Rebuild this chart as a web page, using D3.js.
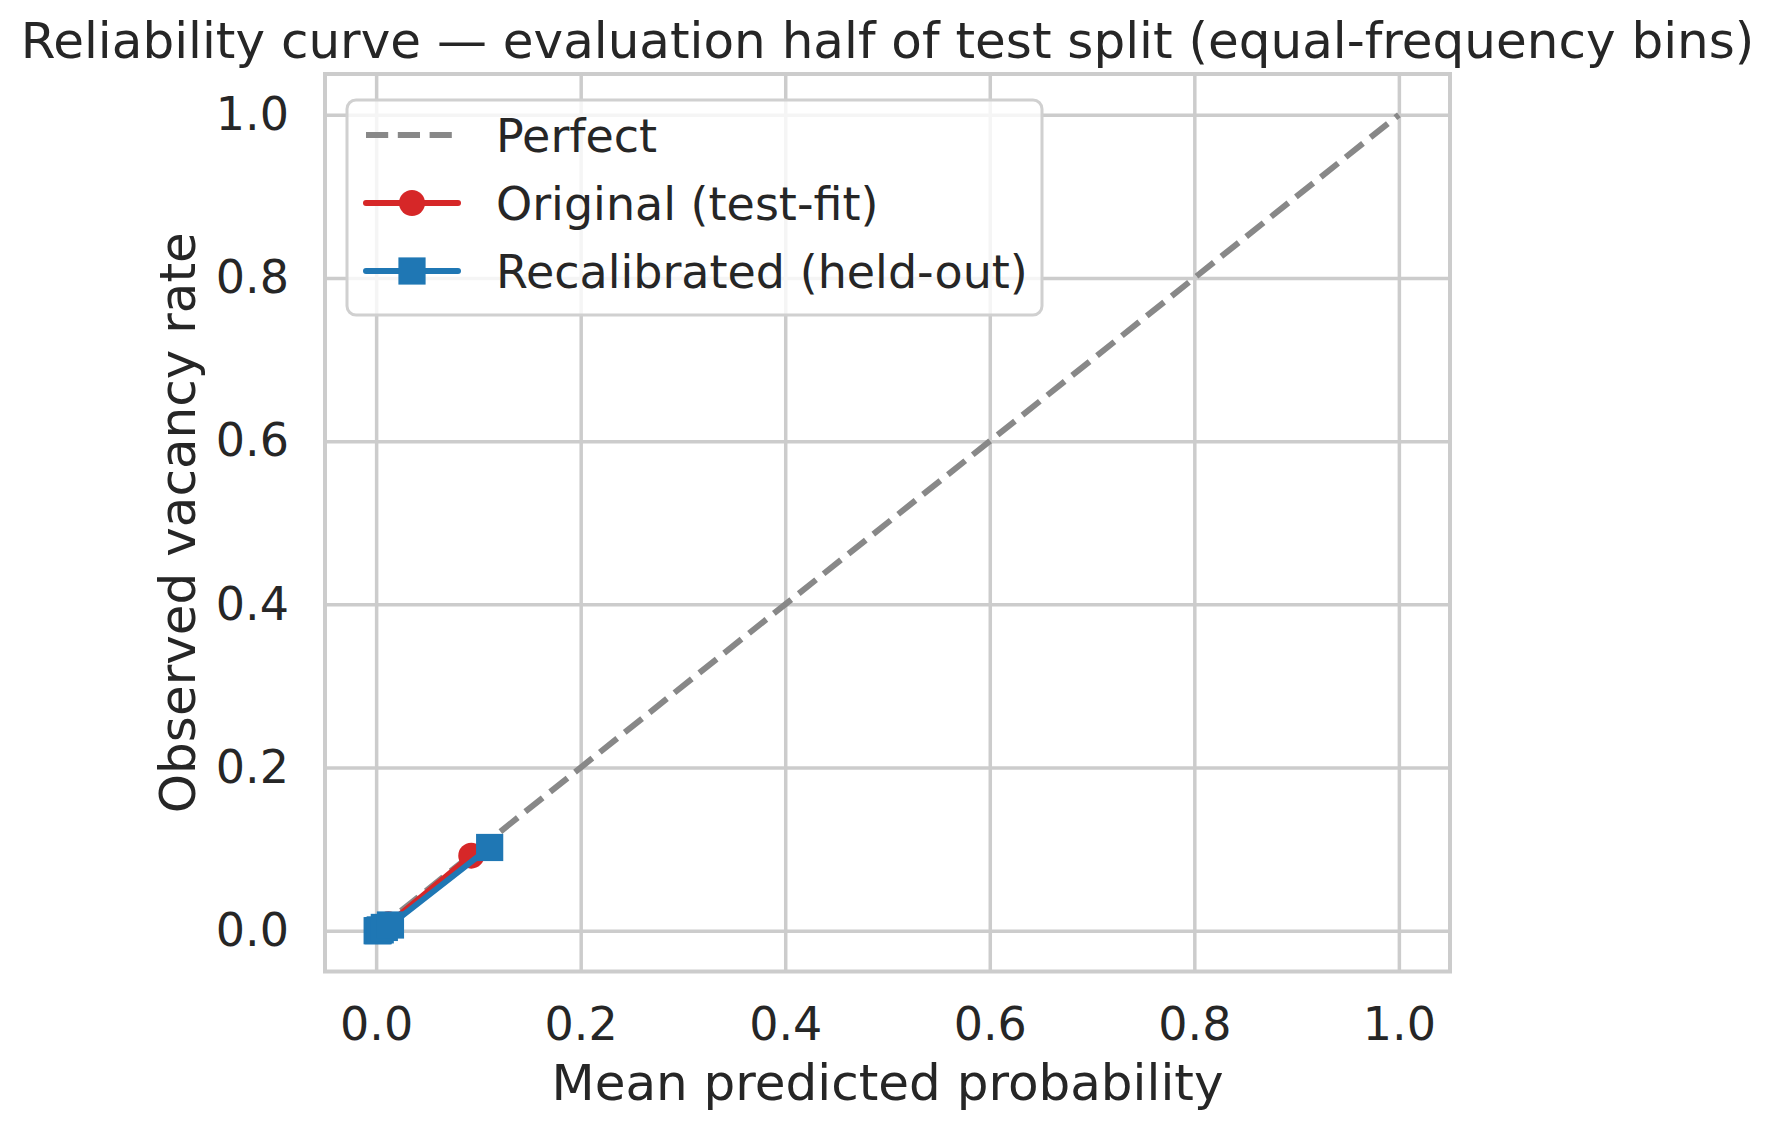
<!DOCTYPE html>
<html>
<head>
  <meta charset="utf-8">
  <style>
    body { margin: 0; background: #fff; }
    text { font-family: "DejaVu Sans", sans-serif; fill: #262626; }
  </style>
</head>
<body>
<div id="chart"></div>
<script src="https://cdn.jsdelivr.net/npm/d3@7"></script>
<script>
  // values
  const origX = [0.001, 0.002, 0.004, 0.007, 0.012, 0.093];
  const origY = [0.000, 0.000, 0.001, 0.003, 0.008, 0.092];
  const recalX = [0.001, 0.002, 0.004, 0.008, 0.014, 0.111];
  const recalY = [0.000, 0.000, 0.001, 0.004, 0.007, 0.102];
  const perfect = [0, 1];
  const ticks = [0, 0.2, 0.4, 0.6, 0.8, 1.0];
  const seriesNames = ["Perfect", "Original (test-fit)", "Recalibrated (held-out)"];

  const W = 1775, H = 1131;
  const mLeft = 325, mRight = 1450, mTop = 74, mBottom = 971.5;

  const svg = d3.select('#chart').append('svg')
    .attr('width', W).attr('height', H);

  const x = d3.scaleLinear().domain([-0.05, 1.05]).range([mLeft, mRight]);
  const y = d3.scaleLinear().domain([-0.05, 1.05]).range([mBottom, mTop]);

  // grid + tick labels
  const gx = svg.append('g')
    .attr('transform', `translate(0,${mBottom})`)
    .call(d3.axisBottom(x).tickValues(ticks).tickFormat(d3.format('.1f'))
      .tickSize(-(mBottom - mTop)).tickPadding(36));
  const gy = svg.append('g')
    .attr('transform', `translate(${mLeft},0)`)
    .call(d3.axisLeft(y).tickValues(ticks).tickFormat(d3.format('.1f'))
      .tickSize(-(mRight - mLeft)).tickPadding(36));
  [gx, gy].forEach(g => {
    g.select('.domain').remove();
    g.selectAll('.tick line').attr('stroke', '#cccccc').attr('stroke-width', 3.5);
    g.selectAll('.tick text').attr('font-size', 46).attr('fill', '#262626')
      .attr('font-family', '"DejaVu Sans", sans-serif');
  });

  // frame
  svg.append('rect')
    .attr('x', mLeft).attr('y', mTop)
    .attr('width', mRight - mLeft).attr('height', mBottom - mTop)
    .attr('fill', 'none').attr('stroke', '#cccccc').attr('stroke-width', 4);

  const line = d3.line().x(d => x(d[0])).y(d => y(d[1]));

  // perfect diagonal
  svg.append('path')
    .datum(perfect.map(v => [v, v]))
    .attr('d', line)
    .attr('fill', 'none').attr('stroke', '#888888')
    .attr('stroke-width', 6).attr('stroke-dasharray', '22.2,9.6');

  // original (red, circles)
  const orig = origX.map((v, i) => [v, origY[i]]);
  svg.append('path').datum(orig).attr('d', line)
    .attr('fill', 'none').attr('stroke', '#d62728').attr('stroke-width', 6)
    .attr('stroke-linejoin', 'round').attr('stroke-linecap', 'round');
  svg.append('g').selectAll('circle').data(orig).enter().append('circle')
    .attr('cx', d => x(d[0])).attr('cy', d => y(d[1])).attr('r', 13)
    .attr('fill', '#d62728');

  // recalibrated (blue, squares)
  const recal = recalX.map((v, i) => [v, recalY[i]]);
  svg.append('path').datum(recal).attr('d', line)
    .attr('fill', 'none').attr('stroke', '#1f77b4').attr('stroke-width', 6)
    .attr('stroke-linejoin', 'round').attr('stroke-linecap', 'round');
  svg.append('g').selectAll('rect').data(recal).enter().append('rect')
    .attr('x', d => x(d[0]) - 13.6).attr('y', d => y(d[1]) - 13.6)
    .attr('width', 27.2).attr('height', 27.2)
    .attr('fill', '#1f77b4');

  // legend
  const lg = svg.append('g');
  lg.append('rect')
    .attr('x', 347).attr('y', 100).attr('width', 695).attr('height', 215)
    .attr('rx', 9).attr('fill', 'rgba(255,255,255,0.8)')
    .attr('stroke', '#d0d0d0').attr('stroke-width', 3);
  const rowY = [135, 203, 271];
  const styles = [
    { color: '#888888', dash: '22.2,9.6', cap: 'butt', marker: null },
    { color: '#d62728', dash: null, cap: 'round', marker: 'circle' },
    { color: '#1f77b4', dash: null, cap: 'round', marker: 'square' }
  ];
  seriesNames.forEach((name, i) => {
    const s = styles[i], ry = rowY[i];
    lg.append('line')
      .attr('x1', 366).attr('x2', i === 0 ? 461 : 458)
      .attr('y1', ry).attr('y2', ry)
      .attr('stroke', s.color).attr('stroke-width', 6)
      .attr('stroke-linecap', s.cap)
      .attr('stroke-dasharray', s.dash);
    if (s.marker === 'circle') {
      lg.append('circle').attr('cx', 412).attr('cy', ry).attr('r', 13).attr('fill', s.color);
    } else if (s.marker === 'square') {
      lg.append('rect').attr('x', 412 - 13.6).attr('y', ry - 13.6)
        .attr('width', 27.2).attr('height', 27.2).attr('fill', s.color);
    }
    lg.append('text').attr('x', 496).attr('y', ry).attr('dy', '0.36em')
      .attr('font-size', 46).text(name);
  });

  // title and axis labels
  svg.append('text').attr('x', (mLeft + mRight) / 2).attr('y', 58)
    .attr('text-anchor', 'middle').attr('font-size', 50)
    .text('Reliability curve — evaluation half of test split (equal-frequency bins)');
  svg.append('text').attr('x', (mLeft + mRight) / 2).attr('y', 1100)
    .attr('text-anchor', 'middle').attr('font-size', 50)
    .text('Mean predicted probability');
  svg.append('text')
    .attr('transform', `translate(195,${(mTop + mBottom) / 2}) rotate(-90)`)
    .attr('text-anchor', 'middle').attr('font-size', 50)
    .text('Observed vacancy rate');
</script>
</body>
</html>
